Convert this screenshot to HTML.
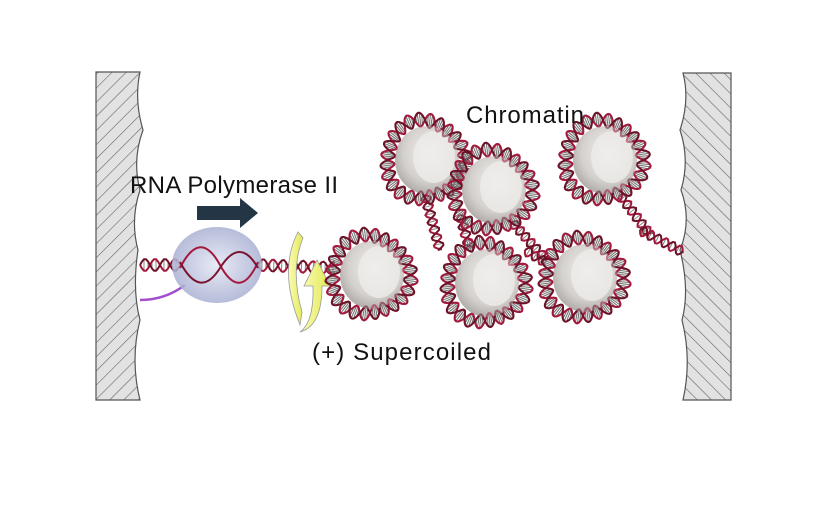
<!DOCTYPE html>
<html><head><style>body{margin:0;background:#fff}svg{display:block}</style></head><body>
<svg id="s" width="832" height="520" viewBox="0 0 832 520" xmlns="http://www.w3.org/2000/svg">
<defs>
<pattern id="h" width="10" height="10" patternUnits="userSpaceOnUse" patternTransform="rotate(45)"><rect width="10" height="10" fill="#e2e2e2"/><line x1="0" y1="0" x2="0" y2="10" stroke="#666" stroke-width="1.2"/></pattern>
<pattern id="h2" width="10" height="10" patternUnits="userSpaceOnUse" patternTransform="rotate(-45)"><rect width="10" height="10" fill="#e2e2e2"/><line x1="0" y1="0" x2="0" y2="10" stroke="#666" stroke-width="1.2"/></pattern>
<radialGradient id="n" cx="0.55" cy="0.4" r="0.7"><stop offset="0" stop-color="#f4f2f0"/><stop offset="0.6" stop-color="#d3d0cd"/><stop offset="1" stop-color="#9f9b98"/></radialGradient>
<radialGradient id="p" cx="0.5" cy="0.5" r="0.6"><stop offset="0" stop-color="#e4e6f4"/><stop offset="1" stop-color="#9ea6cc"/></radialGradient>
<linearGradient id="y" x1="0" x2="1"><stop offset="0" stop-color="#fbfbb8"/><stop offset="1" stop-color="#e2ea55"/></linearGradient>
</defs>
<path d="M96 72 H140 Q134 100 143 130 Q132 160 140 190 Q130 220 138 250 Q132 290 140 320 Q130 360 140 400 H96Z" fill="url(#h)" stroke="#555" stroke-width="1.2"/>
<path d="M731 73 H683 Q690 100 680 130 Q690 160 681 190 Q692 220 680 250 Q690 290 682 320 Q692 360 683 400 H731Z" fill="url(#h2)" stroke="#555" stroke-width="1.2"/>
<g id="dna"></g>
<path d="M140 300 Q165 300 185 285" stroke="#a24fcf" stroke-width="2.5" fill="none"/>
<ellipse cx="217" cy="265" rx="45" ry="38" fill="url(#p)" opacity="0.85"/>
<path d="M180 268 Q200 228 220 265 T258 262" stroke="#a3193c" stroke-width="2" fill="none"/>
<path d="M180 262 Q200 300 220 268 T258 268" stroke="#7a1530" stroke-width="2" fill="none"/>
<path d="M197 206 H240 V198 L258 213 L240 228 V220 H197Z" fill="#243645"/>
<path d="M298 232 Q278 270 300 325 L302 312 Q290 270 303 238Z" fill="url(#y)" stroke="#999" stroke-width="0.8"/>
<path d="M300 332 Q314 322 313 286 H304 L317 260 L330 286 H322 Q322 326 300 332Z" fill="url(#y)" stroke="#999" stroke-width="0.8"/>
<g id="nucs"></g>
<g font-family="Liberation Sans, sans-serif" font-size="24" fill="#111">
<text x="130" y="193" textLength="208">RNA Polymerase II</text>
<text x="466" y="123" textLength="118">Chromatin</text>
<text x="312" y="360" textLength="179">(+) Supercoiled</text>
</g>
<script>
var NS="http://www.w3.org/2000/svg";
function el(p,t,a){var e=document.createElementNS(NS,t);for(var k in a)e.setAttribute(k,a[k]);p.appendChild(e);return e;}
function helix(g,x1,y1,x2,y2,amp,per){
 var dx=x2-x1,dy=y2-y1,L=Math.hypot(dx,dy),ux=dx/L,uy=dy/L,nx=-uy,ny=ux;
 var a="",b="",N=Math.ceil(L/2);
 for(var i=0;i<=N;i++){var s=i/N*L,w=amp*Math.sin(s/per*2*Math.PI);
  var px=x1+ux*s,py=y1+uy*s;
  a+=(i?"L":"M")+(px+nx*w).toFixed(1)+" "+(py+ny*w).toFixed(1);
  b+=(i?"L":"M")+(px-nx*w).toFixed(1)+" "+(py-ny*w).toFixed(1);
  if(i%2==0) el(g,"line",{x1:px+nx*w,y1:py+ny*w,x2:px-nx*w,y2:py-ny*w,stroke:"#888","stroke-width":1});
 }
 el(g,"path",{d:a,fill:"none",stroke:"#a3193c","stroke-width":2});
 el(g,"path",{d:b,fill:"none",stroke:"#6e1228","stroke-width":2});
}
function ring(g,cx,cy,R,amp,k){
 var a="",b="",N=260;
 for(var i=0;i<=N;i++){var t=i/N*2*Math.PI,w=amp*Math.sin(k*t),c=Math.cos(t),s=Math.sin(t);
  var r2=R+2*Math.sin(3*t+1);
  a+=(i?"L":"M")+(cx+(r2+w)*c).toFixed(1)+" "+(cy+(r2+w)*s).toFixed(1);
  b+=(i?"L":"M")+(cx+(r2-w)*c).toFixed(1)+" "+(cy+(r2-w)*s).toFixed(1);
  if(i%2==0) el(g,"line",{x1:cx+(r2+w)*c,y1:cy+(r2+w)*s,x2:cx+(r2-w)*c,y2:cy+(r2-w)*s,stroke:"#777","stroke-width":1});
 }
 el(g,"path",{d:a,fill:"none",stroke:"#a3193c","stroke-width":2});
 el(g,"path",{d:b,fill:"none",stroke:"#6e1228","stroke-width":2});
}
var d=document.getElementById("dna");
helix(d,140,265,180,265,6,20);
helix(d,258,265,335,268,6,20);
helix(d,425,195,440,250,5,16);
helix(d,512,222,548,262,5,16);
helix(d,460,215,470,250,5,16);
helix(d,620,195,650,235,5,16);
helix(d,640,230,683,252,5,16);
helix(d,525,250,545,262,5,16);
var g=document.getElementById("nucs");
[[425,160],[603,160],[485,283],[583,278],[370,275],[492,190]].forEach(function(c){
 var gg=el(g,"g",{});
 ring(gg,c[0],c[1],39,7,12);
 el(gg,"ellipse",{cx:c[0]+2,cy:c[1],rx:32,ry:34,fill:"url(#n)"});
 el(gg,"ellipse",{cx:c[0]+9,cy:c[1]-3,rx:21,ry:26,fill:"#eeecea",opacity:0.8});
 var f=el(g,"g",{opacity:0.55});
 ring(f,c[0],c[1],39,7,12);
});
</script>
</svg>
</body></html>
